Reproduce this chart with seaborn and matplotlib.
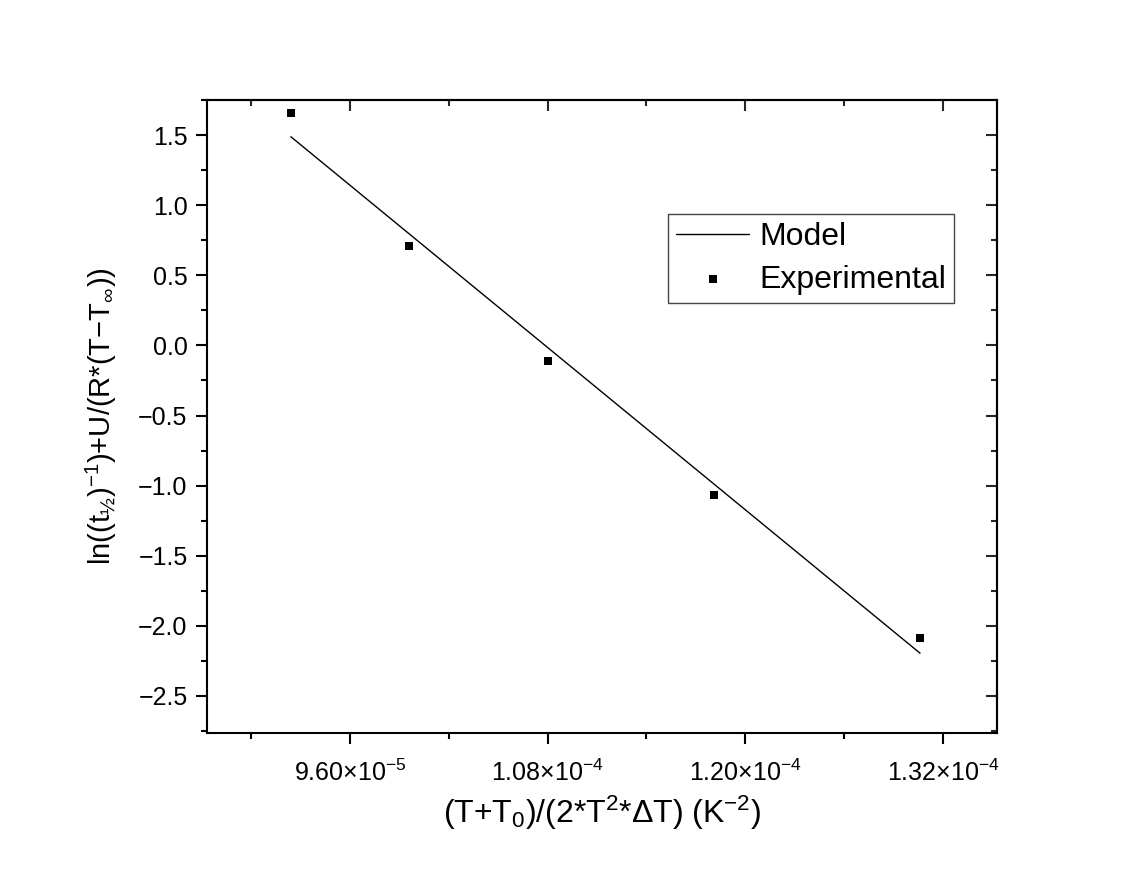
import matplotlib
matplotlib.use("Agg")
import matplotlib.pyplot as plt
import seaborn as sns
import numpy as np
import pandas as pd
from matplotlib.ticker import FixedLocator, FixedFormatter, MultipleLocator

# Data
exp_x = [9.242e-5, 9.958e-5, 1.080e-4, 1.1812e-4, 1.306e-4]
exp_y = [1.657, 0.707, -0.114, -1.064, -2.086]
model_x = [9.242e-5, 1.306e-4]
model_y = [1.488, -2.195]

xticks = [9.6e-5, 1.08e-4, 1.20e-4, 1.32e-4]
xtick_labels = [r"$\mathregular{9.60{\times}10^{-5}}$", r"$\mathregular{1.08{\times}10^{-4}}$",
                r"$\mathregular{1.20{\times}10^{-4}}$", r"$\mathregular{1.32{\times}10^{-4}}$"]
xminor = [9.0e-5, 1.02e-4, 1.14e-4, 1.26e-4]
yticks = [1.5, 1.0, 0.5, 0.0, -0.5, -1.0, -1.5, -2.0, -2.5]

sns.set_style("ticks")
plt.rcParams["font.family"] = ["Liberation Sans", "DejaVu Sans"]
plt.rcParams["mathtext.fontset"] = "custom"
plt.rcParams["mathtext.rm"] = "Liberation Sans"
plt.rcParams["mathtext.it"] = "Liberation Sans:italic"
plt.rcParams["mathtext.bf"] = "Liberation Sans:bold"
plt.rcParams["text.color"] = "black"
plt.rcParams["axes.labelcolor"] = "black"

fig = plt.figure(figsize=(11.43, 8.73), dpi=100)
ax = fig.add_axes([207/1143, 1-733/873, (997-207)/1143, (733-100)/873])

df_model = pd.DataFrame({"x": model_x, "y": model_y})
df_exp = pd.DataFrame({"x": exp_x, "y": exp_y})
sns.lineplot(data=df_model, x="x", y="y", ax=ax, color="black", linewidth=1.0, label="Model")
sns.scatterplot(data=df_exp, x="x", y="y", ax=ax, color="black", marker="s", s=40,
                edgecolor="black", linewidth=0, label="Experimental")

ax.set_xlim(8.733e-5, 1.3527e-4)
ax.set_ylim(-2.764, 1.75)

ax.xaxis.set_major_locator(FixedLocator(xticks))
ax.xaxis.set_major_formatter(FixedFormatter(xtick_labels))
ax.xaxis.set_minor_locator(FixedLocator(xminor))
ax.yaxis.set_major_locator(FixedLocator(yticks))
ax.yaxis.set_minor_locator(MultipleLocator(0.25))

ax.tick_params(axis="both", which="major", direction="out", length=8, width=1.5,
               labelsize=18, pad=6, color="black", labelcolor="black")
ax.tick_params(axis="both", which="minor", direction="out", length=4, width=1.5, color="black")
ax.tick_params(axis="x", which="major", pad=11)

for sp in ax.spines.values():
    sp.set_visible(True)
    sp.set_linewidth(1.5)
    sp.set_color("black")

# mirrored inward ticks on top and right
secx = ax.secondary_xaxis("top")
secx.xaxis.set_major_locator(FixedLocator(xticks))
secx.xaxis.set_minor_locator(FixedLocator(xminor))
secx.tick_params(which="major", direction="in", length=8, width=1.5, labeltop=False)
secx.tick_params(which="minor", direction="in", length=4, width=1.5)
secx.spines["top"].set_linewidth(1.5)
secy = ax.secondary_yaxis("right")
secy.yaxis.set_major_locator(FixedLocator(yticks))
secy.yaxis.set_minor_locator(MultipleLocator(0.25))
secy.tick_params(which="major", direction="in", length=8, width=1.5, labelright=False)
secy.tick_params(which="minor", direction="in", length=4, width=1.5)
secy.spines["right"].set_linewidth(1.5)

ax.set_xlabel(r"$\mathregular{(T{+}T_0)/(2{*}T^2{*}\Delta T)\ (K^{-2})}$", fontsize=23, labelpad=6)
ax.set_ylabel(r"$\mathregular{ln((t_{½})^{-1}){+}U/(R{*}(T{-}T_{\infty}))}$", fontsize=21, labelpad=14)

leg = ax.legend(loc="upper left", bbox_to_anchor=(668/1143, 1-214/873),
                bbox_transform=fig.transFigure, fontsize=23, frameon=True, fancybox=False,
                edgecolor="#444444", framealpha=1, borderpad=0.25, handlelength=2.3,
                handletextpad=0.3, labelspacing=0.4, borderaxespad=0)
leg.get_frame().set_linewidth(1.0)
for t in leg.get_texts():
    t.set_color("black")

fig.savefig("out.png", dpi=100, facecolor="white")
